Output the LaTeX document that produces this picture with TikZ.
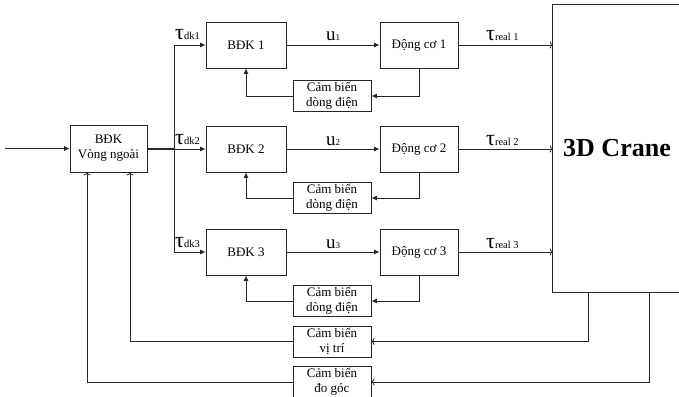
\documentclass[tikz,border=0pt]{standalone}
\usepackage{fontspec}
\setmainfont{Liberation Serif}
\usetikzlibrary{arrows.meta}
\newcommand{\bx}{\fontsize{13}{15}\selectfont}
\newcommand{\tauL}[1]{{\fontsize{22}{22}\selectfont τ}{\fontsize{10.5}{10}\selectfont #1}}
\newcommand{\uL}[1]{{\fontsize{19}{19}\selectfont u}{\fontsize{9}{9}\selectfont #1}}
\begin{document}
\begin{tikzpicture}[x=1pt,y=-1pt,
  ln/.style={draw=black!85,line width=0.8pt},
  blk/.style={ln,rectangle,inner sep=0pt,align=center,font=\bx},
  ctl/.style={blk,minimum width=80pt,minimum height=46pt},
  mot/.style={blk,minimum width=78pt,minimum height=46pt},
  sen/.style={blk,minimum width=78pt,minimum height=31pt},
  arr/.style={ln,-{Latex[length=5.5pt,width=5pt]}},
  oarr/.style={ln,-{To[length=3pt,width=7pt]}},
  lab/.style={anchor=base west,inner sep=0pt}]
\useasboundingbox (0,0) rectangle (679,396);
\clip (0,0) rectangle (679,396);
% blocks
\node[blk,minimum width=77pt,minimum height=47pt] (outer) at (108.5,148.5) {BĐK\\Vòng ngoài};
\node[ctl] (b1) at (246,45) {BĐK 1};
\node[ctl] (b2) at (246,149) {BĐK 2};
\node[ctl] (b3) at (246,252) {BĐK 3};
\node[mot] (m1) at (419,45) {Động cơ 1};
\node[mot] (m2) at (419,149) {Động cơ 2};
\node[mot] (m3) at (419,252) {Động cơ 3};
\node[sen] (s1) at (332,96) {Cảm biến\\dòng điện};
\node[sen] (s2) at (332,198) {Cảm biến\\dòng điện};
\node[sen] (s3) at (332,301) {Cảm biến\\dòng điện};
\node[sen] (sp) at (332,341.5) {Cảm biến\\vị trí};
\node[sen] (sa) at (332,382) {Cảm biến\\đo góc};
\node[inner sep=0pt,minimum width=128pt,minimum height=287pt,font=\fontsize{26}{26}\selectfont\bfseries] (crane) at (617,148.5) {3D Crane};
\draw[ln] ([xshift=20pt]crane.north east) -- (crane.north west) -- (crane.south west) -- ([xshift=20pt]crane.south east);
% input
\coordinate (in) at (5,148.5);
\draw[arr] (in) -- (outer.west);
% distribution
\coordinate (j1) at (174,45);
\coordinate (j2) at (174,149);
\coordinate (j3) at (174,252);
\draw[ln,line width=1.6pt] (outer.east |- j2) -- (j2);
\draw[ln] (j1) -- (j3);
\draw[arr] (j1) -- (b1.west);
\draw[arr] (j2) -- (b2.west);
\draw[arr] (j3) -- (b3.west);
% rows
\foreach \i in {1,2,3}{
  \draw[arr] (b\i.east) -- (m\i.west);
  \draw[oarr] (m\i.east) -- (m\i.east -| crane.west);
  \draw[arr] (m\i.south) |- (s\i.east);
  \draw[arr] (s\i.west) -| (b\i.south);
}
% labels
\node[lab] (t1) at (175,40) {\tauL{dk1}};
\node[lab] (t2) at (175,144) {\tauL{dk2}};
\node[lab] (t3) at (175,247) {\tauL{dk3}};
\node[lab] (u1) at (326,41) {\uL{1}};
\node[lab] (u2) at (326,145) {\uL{2}};
\node[lab] (u3) at (326,248) {\uL{3}};
\node[lab] (r1) at (486,41) {\tauL{real 1}};
\node[lab] (r2) at (486,145) {\tauL{real 2}};
\node[lab] (r3) at (486,248) {\tauL{real 3}};
% outer feedback
\coordinate (cp) at (588,292);
\coordinate (ca) at (649,292);
\draw[oarr] (cp) |- (sp.east);
\draw[oarr] (ca) |- (sa.east);
\draw[oarr] (sp.west) -| ([xshift=21.5pt]outer.south);
\draw[oarr] (sa.west) -| ([xshift=-21.5pt]outer.south);
\end{tikzpicture}
\end{document}
